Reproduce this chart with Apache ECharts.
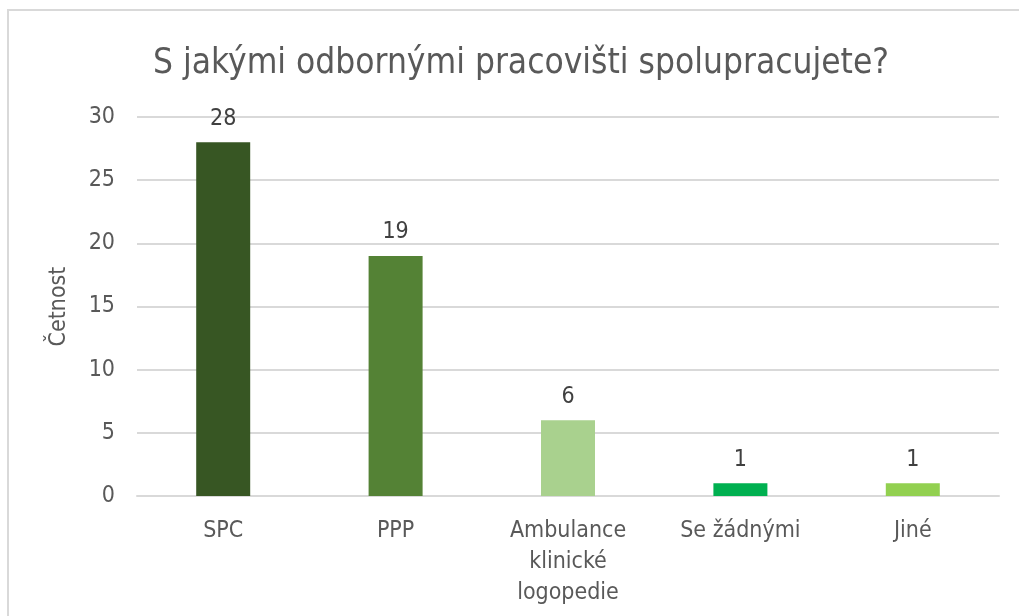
<!DOCTYPE html>
<html>
<head>
<meta charset="utf-8">
<script src="https://cdn.jsdelivr.net/npm/echarts@6/dist/echarts.min.js"></script>
<style>
  html, body { margin: 0; padding: 0; background: #fff; }
  #chart { width: 1019px; height: 616px; }
</style>
</head>
<body>
<div id="chart"></div>
<script>
// kategorie a hodnoty
var categories = ['SPC', 'PPP', 'Ambulance\nklinické\nlogopedie', 'Se žádnými', 'Jiné'];
var counts = [28, 19, 6, 1, 1];
var barColors = ['#375623', '#548235', '#A9D18E', '#00B050', '#92D050'];

var FONT = '"Liberation Sans Narrow", "DejaVu Sans Condensed", "Open Sans", sans-serif';

var chart = echarts.init(document.getElementById('chart'));

var option = {
    animation: false,
    backgroundColor: '#fff',
    title: {
        text: 'S jakými odbornými pracovišti spolupracujete?',
        left: 516,
        top: 41,
        textAlign: 'center',
        textStyle: {
            fontFamily: FONT,
            fontSize: 35,
            fontWeight: 'normal',
            color: '#595959'
        }
    },
    // rámeček grafu
    graphic: [{
        type: 'rect',
        shape: { x: 8, y: 10, width: 1030, height: 640 },
        style: { fill: null, stroke: '#d9d9d9', lineWidth: 2 },
        silent: true
    }],
    grid: {
        left: 137,
        right: 20,
        top: 117,
        bottom: 120
    },
    xAxis: {
        type: 'category',
        data: categories,
        axisLine: { lineStyle: { color: '#d9d9d9', width: 2 } },
        axisTick: { show: false },
        axisLabel: {
            margin: 20,
            fontFamily: FONT,
            fontSize: 23,
            color: '#595959',
            lineHeight: 31,
            interval: 0
        }
    },
    yAxis: {
        type: 'value',
        min: 0,
        max: 30,
        interval: 5,
        name: 'Četnost',
        nameLocation: 'middle',
        nameGap: 66,
        nameRotate: 90,
        nameTextStyle: {
            fontFamily: FONT,
            fontSize: 23,
            color: '#595959'
        },
        axisLine: { show: false },
        axisTick: { show: false },
        splitLine: { lineStyle: { color: '#d9d9d9', width: 2 } },
        axisLabel: {
            margin: 22,
            fontFamily: FONT,
            fontSize: 23,
            color: '#595959'
        }
    },
    series: [{
        type: 'bar',
        data: counts.map(function (v, i) {
            return { value: v, itemStyle: { color: barColors[i] } };
        }),
        barWidth: 54,
        label: {
            show: true,
            position: 'top',
            distance: 12,
            fontFamily: FONT,
            fontSize: 23,
            color: '#404040'
        }
    }]
};

chart.setOption(option);
</script>
</body>
</html>
